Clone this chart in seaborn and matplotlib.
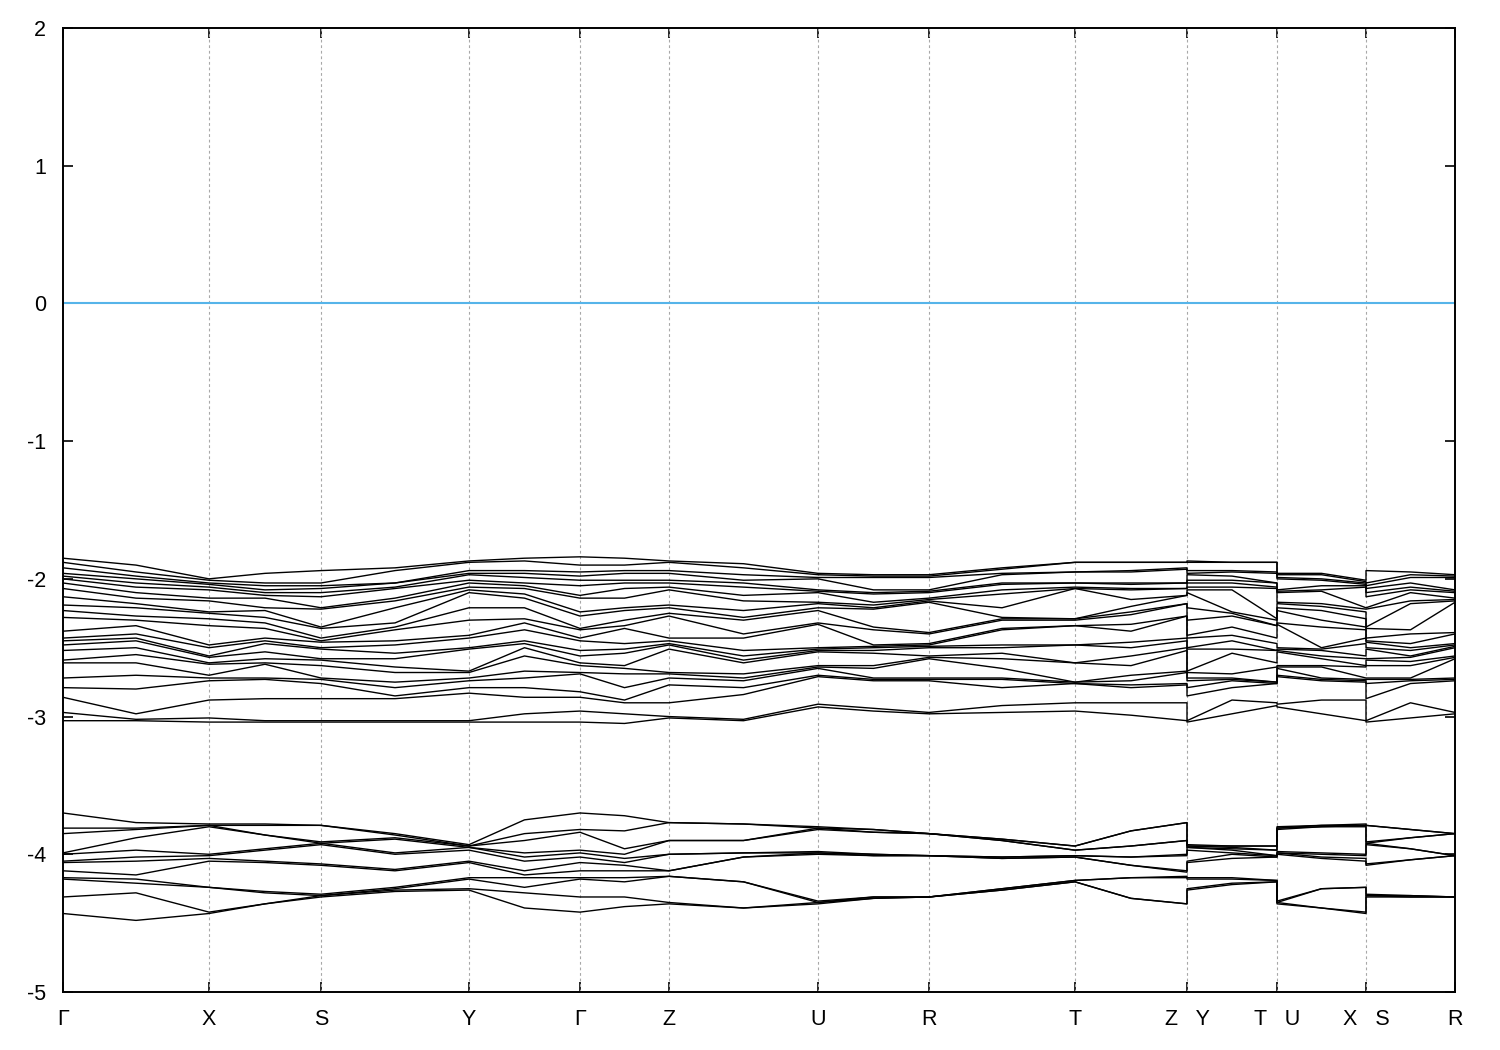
import numpy as np
import pandas as pd
import matplotlib
matplotlib.use("Agg")
import matplotlib.pyplot as plt
import seaborn as sns

# ---------------- data ----------------
# high-symmetry path: labels and cumulative k-distance
tick_labels = ["Γ", "X", "S", "Y", "Γ", "Z", "U", "R", "T", "Z   Y", "T   U", "X   S", "R"]
tick_k = [0.0, 1.46, 2.58, 4.06, 5.17, 6.06, 7.55, 8.66, 10.12, 11.24, 12.14, 13.03, 13.92]

# sample points along the path (high-symmetry points + segment midpoints; jumps duplicated)
sample_k = [0.0, 0.73, 1.46, 2.02, 2.58, 3.32, 4.06, 4.615, 5.17, 5.615, 6.06, 6.805,
            7.55, 8.105, 8.66, 9.39, 10.12, 10.68, 11.24, 11.24, 11.69, 12.14, 12.14,
            12.585, 13.03, 13.03, 13.475, 13.92]

# upper valence manifold (24 bands), energies in eV at each sample point
up_G1 = [-1.85, -1.88, -1.92, -1.96, -1.98, -2.00, -2.03, -2.07, -2.13, -2.19, -2.23, -2.28, -2.38, -2.43, -2.45, -2.48, -2.52, -2.59, -2.61, -2.72, -2.79, -2.86, -2.97, -3.03]
up_GX = [-1.90, -1.95, -1.98, -2.00, -2.03, -2.06, -2.10, -2.14, -2.18, -2.21, -2.27, -2.30, -2.34, -2.40, -2.43, -2.45, -2.50, -2.55, -2.61, -2.70, -2.80, -2.98, -3.02, -3.03]
up_X = [-2.00, -2.01, -2.03, -2.04, -2.06, -2.08, -2.14, -2.16, -2.24, -2.25, -2.29, -2.34, -2.48, -2.50, -2.56, -2.57, -2.61, -2.62, -2.70, -2.72, -2.74, -2.88, -3.01, -3.04]
up_XS = [-1.96, -2.03, -2.05, -2.08, -2.10, -2.12, -2.14, -2.21, -2.23, -2.28, -2.32, -2.36, -2.43, -2.45, -2.47, -2.53, -2.58, -2.61, -2.62, -2.72, -2.73, -2.87, -3.03, -3.04]
up_S = [-1.94, -2.03, -2.05, -2.07, -2.10, -2.13, -2.21, -2.22, -2.35, -2.36, -2.43, -2.45, -2.46, -2.50, -2.51, -2.58, -2.59, -2.63, -2.72, -2.73, -2.76, -2.87, -3.03, -3.04]
up_SY = [-1.92, -1.94, -2.03, -2.03, -2.06, -2.07, -2.14, -2.16, -2.21, -2.32, -2.35, -2.37, -2.45, -2.48, -2.54, -2.58, -2.64, -2.68, -2.75, -2.79, -2.85, -2.87, -3.03, -3.04]
up_Y = [-1.87, -1.88, -1.94, -1.96, -1.97, -2.01, -2.03, -2.06, -2.08, -2.10, -2.21, -2.30, -2.41, -2.43, -2.50, -2.51, -2.67, -2.68, -2.72, -2.74, -2.79, -2.83, -3.03, -3.04]
up_YG = [-1.85, -1.87, -1.94, -1.96, -1.99, -2.03, -2.05, -2.07, -2.11, -2.14, -2.21, -2.29, -2.32, -2.37, -2.45, -2.47, -2.50, -2.56, -2.67, -2.72, -2.79, -2.86, -2.98, -3.04]
up_G2 = [-1.84, -1.90, -1.95, -1.98, -2.01, -2.05, -2.12, -2.14, -2.24, -2.27, -2.36, -2.37, -2.43, -2.45, -2.52, -2.56, -2.61, -2.63, -2.68, -2.69, -2.82, -2.86, -2.96, -3.04]
up_GZ = [-1.85, -1.90, -1.94, -1.96, -2.01, -2.03, -2.07, -2.14, -2.21, -2.23, -2.30, -2.34, -2.36, -2.47, -2.51, -2.54, -2.63, -2.65, -2.69, -2.79, -2.88, -2.90, -2.98, -3.05]
up_Z = [-1.87, -1.88, -1.94, -1.96, -2.01, -2.03, -2.06, -2.08, -2.19, -2.21, -2.25, -2.27, -2.43, -2.45, -2.47, -2.48, -2.51, -2.68, -2.69, -2.72, -2.77, -2.90, -3.00, -3.01]
up_ZU = [-1.89, -1.92, -1.97, -2.01, -2.03, -2.06, -2.12, -2.16, -2.23, -2.28, -2.30, -2.40, -2.43, -2.52, -2.56, -2.59, -2.61, -2.69, -2.72, -2.74, -2.79, -2.84, -3.02, -3.03]
up_U = [-1.96, -1.97, -1.99, -2.00, -2.08, -2.09, -2.10, -2.17, -2.18, -2.21, -2.23, -2.32, -2.33, -2.50, -2.51, -2.52, -2.53, -2.63, -2.64, -2.65, -2.70, -2.71, -2.91, -2.93]
up_UR = [-1.97, -1.98, -1.99, -2.08, -2.10, -2.11, -2.17, -2.19, -2.21, -2.22, -2.35, -2.37, -2.48, -2.49, -2.50, -2.52, -2.54, -2.63, -2.65, -2.72, -2.73, -2.74, -2.94, -2.96]
up_R = [-1.97, -1.98, -1.99, -2.08, -2.09, -2.10, -2.14, -2.15, -2.16, -2.17, -2.39, -2.40, -2.47, -2.48, -2.49, -2.50, -2.56, -2.57, -2.58, -2.72, -2.73, -2.74, -2.97, -2.98]
up_RT = [-1.92, -1.93, -1.96, -1.97, -2.03, -2.04, -2.08, -2.11, -2.21, -2.28, -2.29, -2.30, -2.36, -2.37, -2.48, -2.50, -2.54, -2.58, -2.65, -2.72, -2.73, -2.79, -2.92, -2.97]
up_T = [-1.88, -1.88, -1.95, -1.95, -2.03, -2.03, -2.06, -2.07, -2.07, -2.29, -2.29, -2.30, -2.34, -2.34, -2.48, -2.48, -2.61, -2.61, -2.75, -2.75, -2.76, -2.76, -2.90, -2.96]
up_TZ = [-1.88, -1.88, -1.94, -1.95, -2.03, -2.04, -2.07, -2.08, -2.15, -2.20, -2.24, -2.26, -2.33, -2.38, -2.46, -2.50, -2.56, -2.63, -2.70, -2.74, -2.77, -2.79, -2.90, -2.99]
up_Z2 = [-1.88, -1.88, -1.92, -1.93, -2.03, -2.03, -2.07, -2.07, -2.12, -2.12, -2.18, -2.18, -2.27, -2.27, -2.43, -2.45, -2.50, -2.52, -2.67, -2.68, -2.76, -2.77, -2.90, -3.03]
up_Y2 = [-1.87, -1.88, -1.94, -1.96, -1.97, -2.01, -2.03, -2.06, -2.08, -2.10, -2.21, -2.30, -2.41, -2.43, -2.50, -2.51, -2.67, -2.68, -2.72, -2.74, -2.79, -2.85, -3.03, -3.04]
up_YT = [-1.88, -1.88, -1.94, -1.95, -1.98, -2.01, -2.03, -2.06, -2.08, -2.24, -2.25, -2.27, -2.35, -2.41, -2.45, -2.51, -2.54, -2.69, -2.72, -2.73, -2.74, -2.79, -2.88, -2.98]
up_T2 = [-1.88, -1.88, -1.95, -1.96, -2.03, -2.03, -2.06, -2.07, -2.29, -2.30, -2.34, -2.34, -2.43, -2.47, -2.52, -2.52, -2.61, -2.64, -2.75, -2.75, -2.76, -2.76, -2.90, -2.92]
up_U2 = [-1.96, -1.97, -1.99, -2.00, -2.08, -2.09, -2.10, -2.17, -2.18, -2.21, -2.23, -2.32, -2.33, -2.50, -2.51, -2.52, -2.53, -2.63, -2.64, -2.65, -2.70, -2.71, -2.91, -2.93]
up_UX = [-1.96, -1.97, -2.00, -2.01, -2.05, -2.08, -2.09, -2.18, -2.20, -2.23, -2.30, -2.35, -2.50, -2.51, -2.52, -2.56, -2.58, -2.63, -2.64, -2.72, -2.73, -2.74, -2.88, -2.98]
up_X2 = [-2.01, -2.02, -2.03, -2.04, -2.05, -2.06, -2.21, -2.22, -2.24, -2.29, -2.35, -2.37, -2.43, -2.47, -2.56, -2.58, -2.63, -2.64, -2.72, -2.73, -2.74, -2.75, -2.88, -3.03]
up_S2 = [-1.94, -2.03, -2.05, -2.07, -2.10, -2.13, -2.21, -2.22, -2.35, -2.36, -2.43, -2.45, -2.46, -2.50, -2.51, -2.58, -2.59, -2.63, -2.72, -2.73, -2.76, -2.87, -3.03, -3.04]
up_SR = [-1.95, -1.97, -1.99, -2.03, -2.06, -2.08, -2.10, -2.16, -2.18, -2.37, -2.40, -2.47, -2.50, -2.52, -2.56, -2.57, -2.60, -2.63, -2.72, -2.73, -2.74, -2.76, -2.90, -3.01]
up_R2 = [-1.97, -1.98, -1.99, -2.08, -2.09, -2.10, -2.14, -2.15, -2.16, -2.17, -2.39, -2.40, -2.47, -2.48, -2.49, -2.50, -2.56, -2.57, -2.58, -2.72, -2.73, -2.74, -2.97, -2.98]

# lower valence manifold (12 bands)
lo_G1 = [-3.70, -3.81, -3.85, -3.99, -4.00, -4.05, -4.06, -4.12, -4.17, -4.18, -4.31, -4.43]
lo_GX = [-3.77, -3.81, -3.82, -3.88, -3.97, -4.02, -4.05, -4.15, -4.18, -4.21, -4.28, -4.48]
lo_X = [-3.78, -3.79, -3.79, -3.80, -4.00, -4.01, -4.03, -4.05, -4.24, -4.24, -4.42, -4.43]
lo_XS = [-3.78, -3.79, -3.86, -3.86, -3.96, -3.97, -4.05, -4.06, -4.27, -4.28, -4.36, -4.36]
lo_S = [-3.79, -3.79, -3.91, -3.92, -3.92, -3.93, -4.07, -4.08, -4.29, -4.30, -4.30, -4.31]
lo_SY = [-3.85, -3.86, -3.88, -3.89, -3.99, -4.00, -4.11, -4.12, -4.24, -4.25, -4.26, -4.27]
lo_Y = [-3.93, -3.94, -3.94, -3.95, -3.95, -3.97, -4.05, -4.06, -4.17, -4.18, -4.25, -4.26]
lo_YG = [-3.75, -3.85, -3.90, -3.99, -4.02, -4.05, -4.12, -4.15, -4.17, -4.24, -4.28, -4.39]
lo_G2 = [-3.70, -3.82, -3.84, -3.97, -3.99, -4.02, -4.06, -4.12, -4.17, -4.18, -4.31, -4.42]
lo_GZ = [-3.72, -3.83, -3.96, -4.00, -4.03, -4.06, -4.08, -4.12, -4.17, -4.20, -4.31, -4.38]
lo_Z = [-3.77, -3.77, -3.90, -3.90, -4.00, -4.00, -4.12, -4.12, -4.16, -4.16, -4.35, -4.36]
lo_ZU = [-3.78, -3.78, -3.90, -3.90, -3.99, -3.99, -4.02, -4.02, -4.20, -4.20, -4.39, -4.39]
lo_U = [-3.80, -3.81, -3.81, -3.82, -3.98, -3.99, -3.99, -4.00, -4.34, -4.35, -4.35, -4.36]
lo_UR = [-3.82, -3.82, -3.84, -3.84, -4.00, -4.00, -4.01, -4.01, -4.31, -4.31, -4.32, -4.32]
lo_R = [-3.85, -3.85, -3.85, -3.85, -4.01, -4.01, -4.01, -4.01, -4.31, -4.31, -4.31, -4.31]
lo_RT = [-3.89, -3.89, -3.90, -3.90, -4.02, -4.02, -4.03, -4.03, -4.25, -4.25, -4.26, -4.26]
lo_T = [-3.94, -3.94, -3.97, -3.97, -4.01, -4.01, -4.02, -4.02, -4.19, -4.19, -4.20, -4.20]
lo_TZ = [-3.83, -3.83, -3.94, -3.94, -4.02, -4.02, -4.08, -4.08, -4.17, -4.17, -4.32, -4.32]
lo_Z2 = [-3.77, -3.77, -3.90, -3.90, -4.00, -4.01, -4.12, -4.13, -4.16, -4.17, -4.36, -4.36]
lo_Y2 = [-3.93, -3.94, -3.94, -3.95, -3.95, -3.97, -4.05, -4.06, -4.17, -4.18, -4.25, -4.26]
lo_YT = [-3.94, -3.94, -3.95, -3.96, -3.97, -3.99, -4.00, -4.03, -4.17, -4.18, -4.21, -4.22]
lo_T2 = [-3.94, -3.94, -3.97, -3.97, -4.01, -4.01, -4.02, -4.02, -4.19, -4.19, -4.20, -4.20]
lo_U2 = [-3.80, -3.81, -3.81, -3.82, -3.98, -3.99, -3.99, -4.00, -4.34, -4.35, -4.35, -4.36]
lo_UX = [-3.79, -3.79, -3.80, -3.80, -3.99, -4.00, -4.02, -4.03, -4.25, -4.25, -4.39, -4.39]
lo_X2 = [-3.78, -3.79, -3.79, -3.80, -4.00, -4.01, -4.03, -4.05, -4.24, -4.24, -4.42, -4.43]
lo_S2 = [-3.79, -3.79, -3.91, -3.92, -3.92, -3.93, -4.07, -4.08, -4.29, -4.30, -4.30, -4.31]
lo_SR = [-3.82, -3.82, -3.88, -3.88, -3.96, -3.96, -4.04, -4.04, -4.30, -4.30, -4.31, -4.31]
lo_R2 = [-3.85, -3.85, -3.85, -3.85, -4.01, -4.01, -4.01, -4.01, -4.31, -4.31, -4.31, -4.31]

fermi_level = 0.0

upper_cols = [up_G1, up_GX, up_X, up_XS, up_S, up_SY, up_Y, up_YG, up_G2, up_GZ, up_Z, up_ZU,
              up_U, up_UR, up_R, up_RT, up_T, up_TZ, up_Z2, up_Y2, up_YT, up_T2, up_U2, up_UX,
              up_X2, up_S2, up_SR, up_R2]
lower_cols = [lo_G1, lo_GX, lo_X, lo_XS, lo_S, lo_SY, lo_Y, lo_YG, lo_G2, lo_GZ, lo_Z, lo_ZU,
              lo_U, lo_UR, lo_R, lo_RT, lo_T, lo_TZ, lo_Z2, lo_Y2, lo_YT, lo_T2, lo_U2, lo_UX,
              lo_X2, lo_S2, lo_SR, lo_R2]

rows = []
band_id = 0
for cols in (upper_cols, lower_cols):
    mat = np.array(cols)  # (n_k, n_band)
    for b in range(mat.shape[1]):
        for i, k in enumerate(sample_k):
            rows.append({"k": k, "E": mat[i, b], "band": band_id})
        band_id += 1
df = pd.DataFrame(rows)

# ---------------- plot ----------------
sns.set_theme(style="ticks")
plt.rcParams["font.family"] = ["Liberation Sans", "DejaVu Sans"]

fig = plt.figure(figsize=(15, 10.5), dpi=100)
ax = fig.add_axes([63 / 1500, 1 - 992 / 1050, (1455 - 63) / 1500, (992 - 28) / 1050])

# vertical dashed grid at interior high-symmetry points
for k in tick_k[1:-1]:
    ax.axvline(k, color="#a8a8a8", lw=0.8, ls=(0, (2.5, 2.5)), zorder=1)

ax.axhline(fermi_level, color="#56b4e9", lw=1.5, zorder=2)

sns.lineplot(data=df, x="k", y="E", units="band", estimator=None, sort=False,
             color="black", lw=1.0, ax=ax, legend=False, zorder=3)

ax.set_xlim(tick_k[0], tick_k[-1])
ax.set_ylim(-5, 2)
ax.set_xticks(tick_k)
ax.set_xticklabels(tick_labels)
ax.set_yticks([-5, -4, -3, -2, -1, 0, 1, 2])
ax.set_yticklabels(["-5", "-4", "-3", "-2", "-1", "0", "1", "2"])
ax.set_xlabel("")
ax.set_ylabel("")

ax.tick_params(axis="both", which="major", direction="in", length=7, width=1.2,
               labelsize=15.5, colors="black", top=True, right=True)
ax.tick_params(axis="x", pad=12)
ax.tick_params(axis="y", pad=12)
for sp in ax.spines.values():
    sp.set_visible(True)
    sp.set_linewidth(1.4)
    sp.set_color("black")

fig.savefig("out.png", dpi=100, facecolor="white")
